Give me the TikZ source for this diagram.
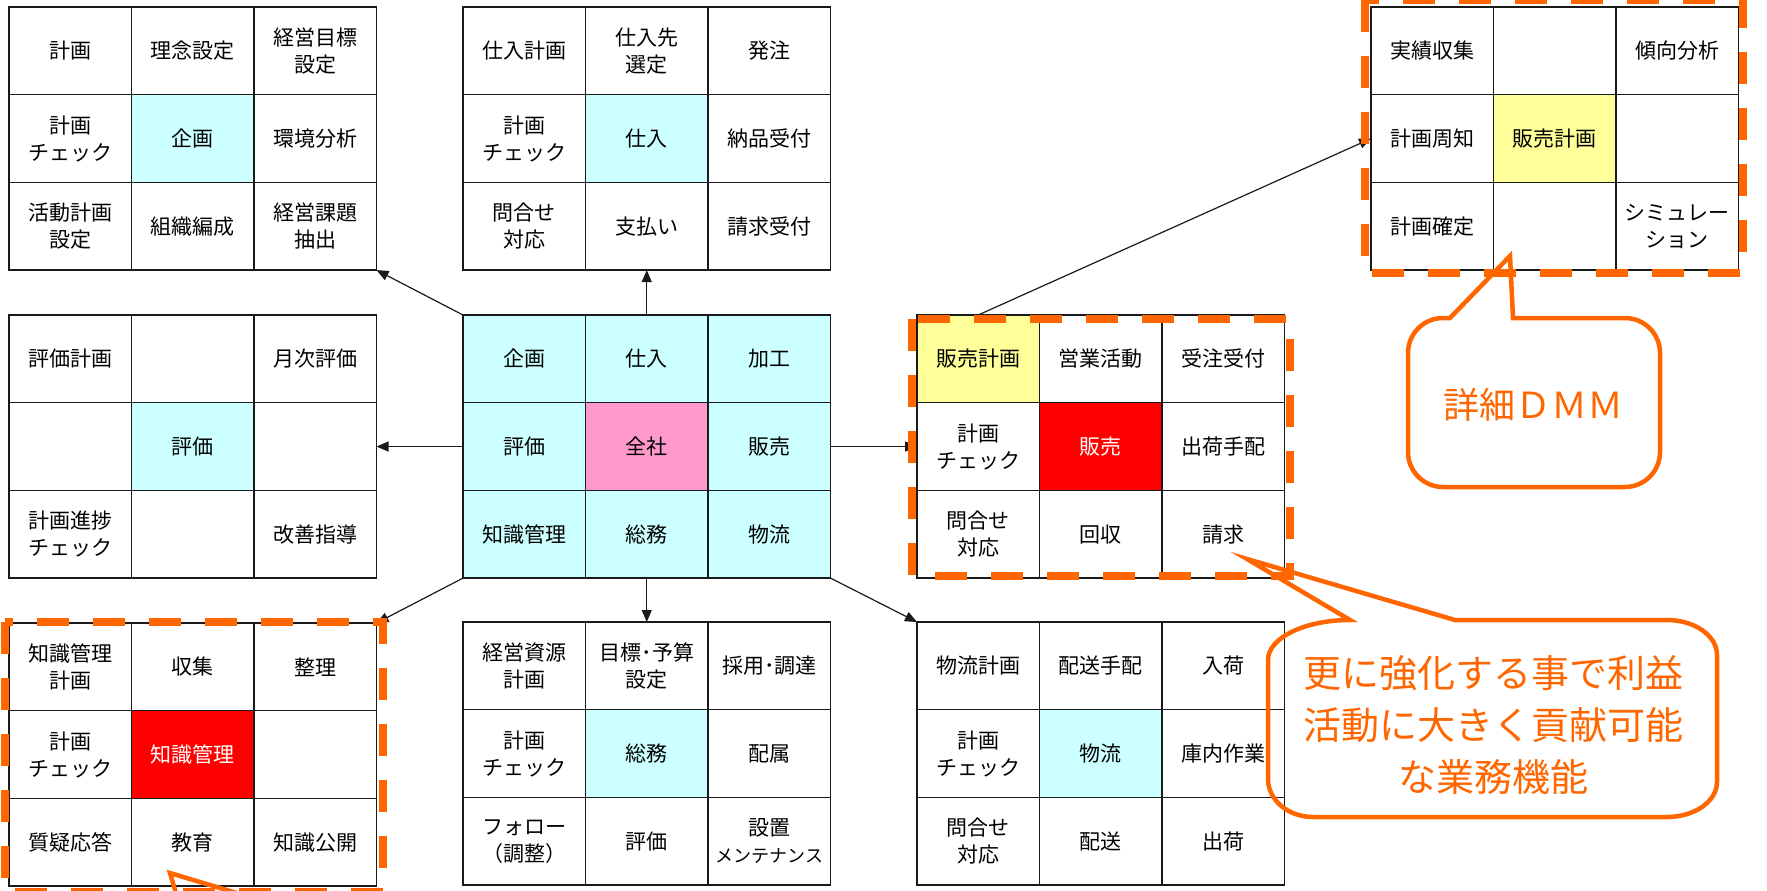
\documentclass[tikz,border=0pt]{standalone}
\usepackage{fontspec}
\setmainfont{Noto Sans CJK JP}
\usetikzlibrary{arrows.meta}
\definecolor{cyanc}{HTML}{CCFFFF}
\definecolor{pinkc}{HTML}{FF99CC}
\definecolor{yellowc}{HTML}{FFFF99}
\definecolor{redc}{HTML}{FF0000}
\definecolor{orangec}{HTML}{FF6600}
\definecolor{linec}{HTML}{1A1A1A}
\newcommand\Cell[5]{\node[cell,#4] (#1#2#3) at ({(#3-1)*122.5},{(#2-1)*87.7}) {#5};}
\begin{document}
\begin{tikzpicture}[x=1pt,y=-1pt,
  cell/.style={draw=linec,line width=1.3pt,minimum width=122.5pt,minimum height=87.7pt,
    inner sep=0pt,outer sep=0pt,anchor=north west,align=center,
    font=\fontsize{21}{27}\selectfont},
  hot/.style={fill=redc,text=white},
  arr/.style={draw=linec,line width=1.2pt,-{Triangle[length=12pt,width=10pt]}},
  dbox/.style={draw=orangec,line width=8pt,dash pattern=on 32pt off 24pt},
  callout/.style={draw=orangec,line width=4.5pt},
  ctext/.style={text=orangec,align=center,inner sep=0pt}]
\fill[white] (0,0) rectangle (1767,891);
\useasboundingbox (0,0) rectangle (1767,891);
\begin{scope}
\clip (0,0) rectangle (1767,891);
% top-left grid
\begin{scope}[shift={(9,7)}]
\Cell{k}{1}{1}{}{計画}
\Cell{k}{1}{2}{}{理念設定}
\Cell{k}{1}{3}{}{経営目標\\設定}
\Cell{k}{2}{1}{}{計画\\チェック}
\Cell{k}{2}{2}{fill=cyanc}{企画}
\Cell{k}{2}{3}{}{環境分析}
\Cell{k}{3}{1}{}{活動計画\\設定}
\Cell{k}{3}{2}{}{組織編成}
\Cell{k}{3}{3}{}{経営課題\\抽出}
\end{scope}
% top-center grid
\begin{scope}[shift={(463,7)}]
\Cell{s}{1}{1}{}{仕入計画}
\Cell{s}{1}{2}{}{仕入先\\選定}
\Cell{s}{1}{3}{}{発注}
\Cell{s}{2}{1}{}{計画\\チェック}
\Cell{s}{2}{2}{fill=cyanc}{仕入}
\Cell{s}{2}{3}{}{納品受付}
\Cell{s}{3}{1}{}{問合せ\\対応}
\Cell{s}{3}{2}{}{支払い}
\Cell{s}{3}{3}{}{請求受付}
\end{scope}
% top-right detail grid
\begin{scope}[shift={(1371,7)}]
\Cell{d}{1}{1}{}{実績収集}
\Cell{d}{1}{2}{}{}
\Cell{d}{1}{3}{}{傾向分析}
\Cell{d}{2}{1}{}{計画周知}
\Cell{d}{2}{2}{fill=yellowc}{販売計画}
\Cell{d}{2}{3}{}{}
\Cell{d}{3}{1}{}{計画確定}
\Cell{d}{3}{2}{}{}
\Cell{d}{3}{3}{}{シミュレー\\ション}
\end{scope}
% middle-left grid
\begin{scope}[shift={(9,315)}]
\Cell{h}{1}{1}{}{評価計画}
\Cell{h}{1}{2}{}{}
\Cell{h}{1}{3}{}{月次評価}
\Cell{h}{2}{1}{}{}
\Cell{h}{2}{2}{fill=cyanc}{評価}
\Cell{h}{2}{3}{}{}
\Cell{h}{3}{1}{}{計画進捗\\チェック}
\Cell{h}{3}{2}{}{}
\Cell{h}{3}{3}{}{改善指導}
\end{scope}
% center grid
\begin{scope}[shift={(463,315)}]
\Cell{c}{1}{1}{fill=cyanc}{企画}
\Cell{c}{1}{2}{fill=cyanc}{仕入}
\Cell{c}{1}{3}{fill=cyanc}{加工}
\Cell{c}{2}{1}{fill=cyanc}{評価}
\Cell{c}{2}{2}{fill=pinkc}{全社}
\Cell{c}{2}{3}{fill=cyanc}{販売}
\Cell{c}{3}{1}{fill=cyanc}{知識管理}
\Cell{c}{3}{2}{fill=cyanc}{総務}
\Cell{c}{3}{3}{fill=cyanc}{物流}
\end{scope}
% middle-right grid
\begin{scope}[shift={(917,315)}]
\Cell{u}{1}{1}{fill=yellowc}{販売計画}
\Cell{u}{1}{2}{}{営業活動}
\Cell{u}{1}{3}{}{受注受付}
\Cell{u}{2}{1}{}{計画\\チェック}
\Cell{u}{2}{2}{hot}{販売}
\Cell{u}{2}{3}{}{出荷手配}
\Cell{u}{3}{1}{}{問合せ\\対応}
\Cell{u}{3}{2}{}{回収}
\Cell{u}{3}{3}{}{請求}
\end{scope}
% bottom-left grid
\begin{scope}[shift={(9,623)}]
\Cell{t}{1}{1}{}{知識管理\\計画}
\Cell{t}{1}{2}{}{収集}
\Cell{t}{1}{3}{}{整理}
\Cell{t}{2}{1}{}{計画\\チェック}
\Cell{t}{2}{2}{hot}{知識管理}
\Cell{t}{2}{3}{}{}
\Cell{t}{3}{1}{}{質疑応答}
\Cell{t}{3}{2}{}{教育}
\Cell{t}{3}{3}{}{知識公開}
\end{scope}
% bottom-center grid
\begin{scope}[shift={(463,622)}]
\Cell{g}{1}{1}{}{経営資源\\計画}
\Cell{g}{1}{2}{}{目標･予算\\設定}
\Cell{g}{1}{3}{}{採用･調達}
\Cell{g}{2}{1}{}{計画\\チェック}
\Cell{g}{2}{2}{fill=cyanc}{総務}
\Cell{g}{2}{3}{}{配属}
\Cell{g}{3}{1}{}{フォロー\\（調整）}
\Cell{g}{3}{2}{}{評価}
\Cell{g}{3}{3}{}{設置\\{\fontsize{18}{27}\selectfont メンテナンス}}
\end{scope}
% bottom-right grid
\begin{scope}[shift={(917,622)}]
\Cell{b}{1}{1}{}{物流計画}
\Cell{b}{1}{2}{}{配送手配}
\Cell{b}{1}{3}{}{入荷}
\Cell{b}{2}{1}{}{計画\\チェック}
\Cell{b}{2}{2}{fill=cyanc}{物流}
\Cell{b}{2}{3}{}{庫内作業}
\Cell{b}{3}{1}{}{問合せ\\対応}
\Cell{b}{3}{2}{}{配送}
\Cell{b}{3}{3}{}{出荷}
\end{scope}
% connectors
\draw[arr] (c11.north west) -- (k33.south east);
\draw[arr] (c12.north) -- (s32.south);
\draw[arr] (c21.west) -- (h23.east);
\draw[arr] (c23.east) -- (u21.west);
\draw[arr] (c31.south west) -- (t13.north east);
\draw[arr] (c32.south) -- (g12.north);
\draw[arr] (c33.south east) -- (b11.north west);
\draw[arr] (u11.north) -- (d21.west);
% dashed highlight boxes
\draw[dbox] (912,319) rectangle (1290,576);
\draw[dbox] (1365,0) rectangle (1743,273);
\draw[dbox] (5,622) rectangle (383,892);
% callouts
\draw[callout] (1450,318) -- (1510,256) -- (1513,318) -- (1625,318)
  .. controls (1644.3,318) and (1660,333.7) .. (1660,353) -- (1660,452)
  .. controls (1660,471.3) and (1644.3,487) .. (1625,487) -- (1443,487)
  .. controls (1423.7,487) and (1408,471.3) .. (1408,452) -- (1408,353)
  .. controls (1408,333.7) and (1423.7,318) .. (1443,318) -- cycle;
\node[ctext,font=\fontsize{36}{44}\selectfont] (dmm) at (1533,405) {詳細ＤＭＭ};
\draw[callout] (1350,620) -- (1247,559) -- (1455,620) -- (1667,620)
  .. controls (1694.6,620) and (1717,635.7) .. (1717,655) -- (1717,782)
  .. controls (1717,801.3) and (1694.6,817) .. (1667,817) -- (1313,817)
  .. controls (1288.1,817) and (1268,800) .. (1268,779) -- (1268,660)
  .. controls (1268,637.9) and (1304.7,620) .. (1350,620) -- cycle;
\node[ctext,font=\fontsize{38}{52}\selectfont] (msg) at (1493,725) {更に強化する事で利益\\活動に大きく貢献可能\\な業務機能};
\draw[callout] (178,900) -- (170,873) -- (260,900);
\end{scope}
\end{tikzpicture}
\end{document}
